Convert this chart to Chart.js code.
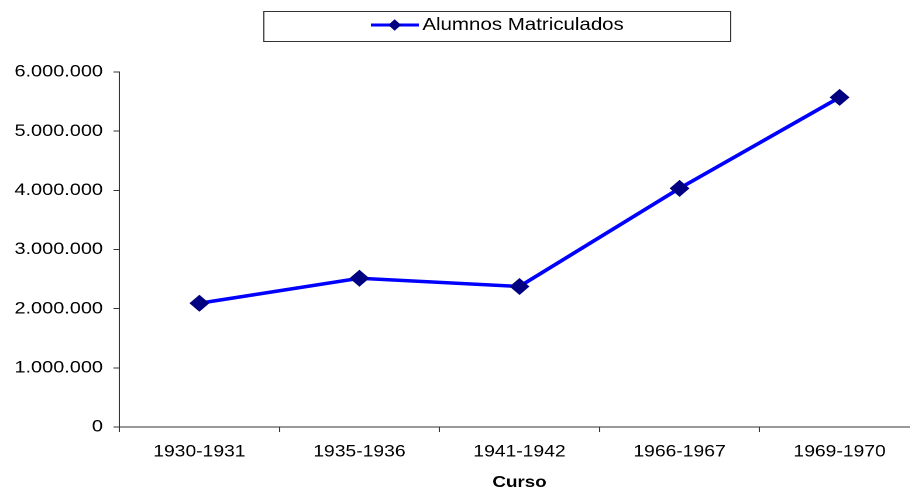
<!DOCTYPE html>
<html>
<head>
<meta charset="utf-8">
<script src="https://cdn.jsdelivr.net/npm/chart.js@4/dist/chart.umd.min.js"></script>
<style>
    html, body { margin: 0; padding: 0; overflow: hidden; background: #fff; }
    /* the reference is stretched sideways, so is this */
    #wrap { transform: scaleX(1.17); transform-origin: 0 0; width: 800px; height: 490px; }
    canvas { display: block; }
</style>
</head>
<body>
<div id="wrap"><canvas id="chart-1" width="800" height="490"></canvas></div>
<script>
// Datos
const cursos = ['1930-1931', '1935-1936', '1941-1942', '1966-1967', '1969-1970'];
const alumnos = [2092000, 2514000, 2375000, 4034000, 5571000];
const serieNombre = 'Alumnos Matriculados';
const ejeX = 'Curso';

const LINE_COLOR = '#0000ff';
const POINT_COLOR = '#000080';
const FONT = 'Liberation Sans, Arial, sans-serif';

function miles(v){
    return String(v).replace(/\B(?=(\d{3})+(?!\d))/g, '.');
}

// Leyenda dibujada a mano (caja ancha con borde)
const legendBox = {
    id: 'legendBox',
    afterDraw(chart){
        const ctx = chart.ctx;
        ctx.save();
        ctx.strokeStyle = '#333';
        ctx.lineWidth = 1;
        ctx.strokeRect(225.5, 11.5, 399, 30);

        ctx.strokeStyle = LINE_COLOR;
        ctx.lineWidth = 3;
        ctx.beginPath();
        ctx.moveTo(317, 25);
        ctx.lineTo(358, 25);
        ctx.stroke();

        ctx.fillStyle = POINT_COLOR;
        ctx.beginPath();
        ctx.moveTo(337.3 - 5.5, 25);
        ctx.lineTo(337.3, 25 - 5.8);
        ctx.lineTo(337.3 + 5.5, 25);
        ctx.lineTo(337.3, 25 + 5.8);
        ctx.closePath();
        ctx.fill();

        ctx.fillStyle = '#000';
        ctx.font = '17.5px ' + FONT;
        ctx.textBaseline = 'alphabetic';
        ctx.textAlign = 'left';
        ctx.fillText(serieNombre, 361, 30);
        ctx.restore();
    }
};

const data = {
    labels: cursos,
    datasets: [{
        label: serieNombre,
        data: alumnos,
        borderColor: LINE_COLOR,
        borderWidth: 3.5,
        backgroundColor: POINT_COLOR,
        pointStyle: 'rectRot',
        pointRadius: 8.5,
        pointBorderWidth: 0,
        pointBackgroundColor: POINT_COLOR,
        tension: 0
    }]
};

const config = {
    type: 'line',
    data: data,
    options: {
        responsive: false,
        animation: false,
        devicePixelRatio: 2,
        layout: { padding: { top: 72, right: 14, left: 0, bottom: 0 } },
        plugins: {
            legend: { display: false },
            tooltip: { enabled: false }
        },
        scales: {
            x: {
                offset: true,
                grid: { offset: true, drawOnChartArea: false, drawTicks: true, tickLength: 5, color: '#333' },
                border: { display: true, color: '#333', width: 1 },
                ticks: { color: '#000', padding: 10, font: { family: FONT, size: 16.5 }, maxRotation: 0 },
                title: {
                    display: true,
                    text: ejeX,
                    color: '#000',
                    padding: { top: 0, bottom: -2 },
                    font: { family: FONT, size: 16, weight: 'bold' }
                },
                afterFit(scale){ scale.height = 63; }
            },
            y: {
                min: 0,
                max: 6000000,
                grid: { drawOnChartArea: false, drawTicks: true, tickLength: 5, color: '#333' },
                border: { display: true, color: '#333', width: 1 },
                ticks: {
                    stepSize: 1000000,
                    color: '#000',
                    padding: 9,
                    font: { family: FONT, size: 17 },
                    callback: function(v){ return miles(v); }
                },
                afterFit(scale){ scale.width = 102; }
            }
        }
    },
    plugins: [legendBox]
};

const chart1 = new Chart(document.getElementById('chart-1'), config);
</script>
</body>
</html>
